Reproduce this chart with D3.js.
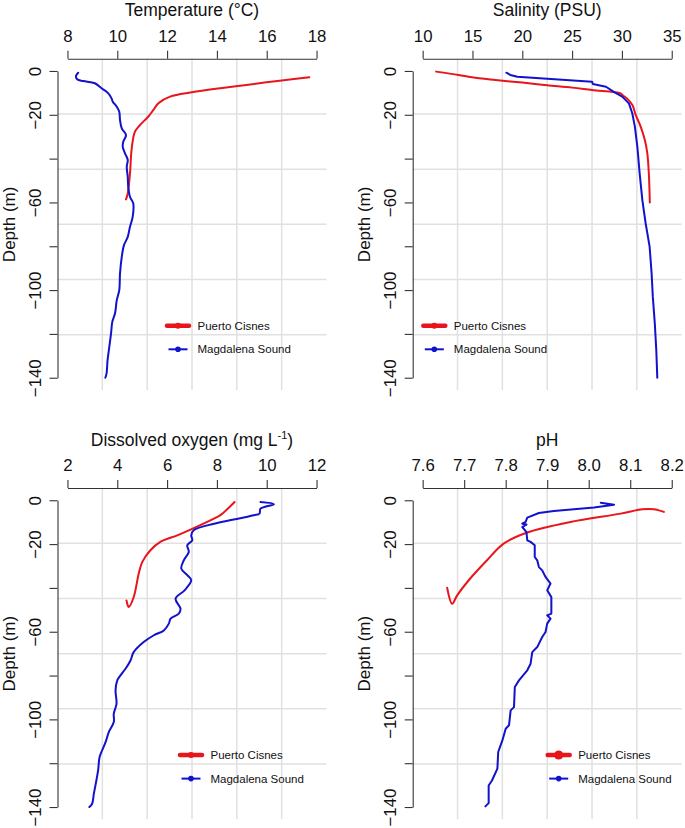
<!DOCTYPE html>
<html>
<head>
<meta charset="utf-8">
<script src="https://cdn.jsdelivr.net/npm/d3@7"></script>
<style>
  html, body { margin: 0; padding: 0; background: #fff; }
  svg { display: block; font-family: "Liberation Sans", Arial, sans-serif; }
</style>
</head>
<body>
<svg id="chart" width="685" height="828"></svg>
<script>
// ---------------- DATA ----------------
const seriesNames = ["Puerto Cisnes", "Magdalena Sound"];
const depthTicks = [0, -20, -40, -60, -80, -100, -120, -140];
const depthLabels = [0, -20, -60, -100, -140];

const tempTicks = [8, 10, 12, 14, 16, 18];
const salTicks = [10, 15, 20, 25, 30, 35];
const doTicks = [2, 4, 6, 8, 10, 12];
const phTicks = [7.6, 7.7, 7.8, 7.9, 8.0, 8.1, 8.2];

// Temperature (°C)
const tempPCDepth = [2.9, 9.7, 11.7, 14.7, 17.8, 20.9, 24.7, 27.7, 35.3, 46.7, 55.9, 58.6];
const tempPC = [17.71, 12.99, 12.12, 11.65, 11.45, 11.24, 10.91, 10.71, 10.58, 10.51, 10.42, 10.35];
const tempMSDepth = [0.8, 2.3, 3.8, 4.6, 5.6, 7.9, 10.2, 12.5, 14, 16.3, 18.6, 22.4, 26.2, 29.2, 32.3, 34.6, 37.6, 40.6, 43.7, 48.3, 52.8, 57.4, 60.4, 66.5, 71.1, 75.7, 79.5, 84.8, 92.4, 100, 104.6, 110.6, 114.5, 119.8, 125.9, 132, 138, 140];
const tempMS = [8.43, 8.34, 8.39, 8.63, 9.1, 9.37, 9.64, 9.77, 9.82, 9.98, 10.08, 10.11, 10.18, 10.35, 10.24, 10.22, 10.31, 10.42, 10.38, 10.42, 10.44, 10.51, 10.64, 10.62, 10.51, 10.42, 10.27, 10.18, 10.11, 10.08, 9.98, 9.91, 9.8, 9.75, 9.68, 9.61, 9.57, 9.52];

// Salinity (PSU)
const salPCDepth = [0.3, 1.8, 2.9, 4.1, 5.3, 6.5, 7.6, 8.7, 10.2, 11, 12.5, 15.5, 20, 25.4, 31.5, 37.6, 46.7, 60];
const salPC = [11.35, 13.6, 14.96, 17.3, 19.99, 22.5, 25.0, 27.0, 29.87, 30.04, 30.5, 31.05, 31.38, 31.88, 32.3, 32.55, 32.7, 32.8];
const salMSDepth = [0.8, 1.8, 2.6, 4.9, 5.9, 7.2, 9.5, 11.7, 14.8, 19.3, 25.4, 34.6, 46.7, 58.9, 69.5, 80.2, 92.4, 103, 115.2, 127.4, 140];
const salMS = [18.4, 18.8, 19.5, 27.0, 27.08, 28.4, 29.19, 30.03, 30.7, 31.04, 31.3, 31.55, 31.78, 32.05, 32.38, 32.78, 32.98, 33.1, 33.3, 33.45, 33.55];

// Dissolved oxygen (mg L-1)
const doPCDepth = [0.8, 6.8, 8.4, 13.4, 16, 19, 22.8, 28.2, 33.5, 44.2, 48.7, 45.7];
const doPC = [8.71, 8.14, 7.88, 6.94, 6.41, 5.73, 5.33, 5.0, 4.86, 4.66, 4.46, 4.37];
const doMSDepth = [0.8, 1.8, 3.8, 6.1, 6.8, 8.8, 10.7, 13.7, 16, 18.3, 20.5, 23.6, 27.4, 31.2, 34.2, 36.5, 41.1, 44.9, 49.5, 51.7, 54, 56.3, 59.4, 61.6, 64.7, 69.3, 73.1, 76.9, 79.9, 82.2, 86.8, 92.8, 97.4, 101.2, 105.8, 110.4, 114.2, 117.2, 123.3, 127.9, 133.9, 138.5, 140];
const doMS = [9.75, 10.29, 9.75, 9.71, 9.48, 8.68, 7.88, 7.07, 6.97, 7.01, 6.81, 6.87, 6.67, 6.57, 6.81, 6.97, 6.7, 6.34, 6.54, 6.47, 6.14, 6.07, 5.87, 5.47, 5.06, 4.66, 4.53, 4.33, 4.13, 4.0, 3.93, 3.97, 3.86, 3.86, 3.66, 3.53, 3.39, 3.29, 3.23, 3.16, 3.06, 2.99, 2.88];

// pH
const phPCDepth = [5.3, 4.1, 4.1, 6.1, 9.9, 14.7, 19.8, 27.4, 36.5, 43.4, 47.2, 39.9];
const phPC = [8.181, 8.157, 8.129, 8.077, 7.956, 7.852, 7.795, 7.755, 7.711, 7.683, 7.671, 7.659];
const phMSDepth = [1.1, 2.0, 3.3, 4.9, 5.8, 7.9, 9.9, 10.7, 11.1, 12.2, 14.5, 18.3, 19, 20.5, 25.9, 27.4, 30.5, 32, 35, 38, 41.1, 44.2, 51.7, 52.5, 54, 56.3, 60.1, 62.4, 67, 69.3, 74.6, 77.6, 82.2, 85.2, 94.4, 95.9, 102.7, 104.3, 109.6, 114.9, 122.5, 127.9, 130.2, 138.2, 139.7];
const phMS = [8.029, 8.061, 8.013, 7.916, 7.88, 7.852, 7.848, 7.84, 7.85, 7.84, 7.85, 7.852, 7.86, 7.87, 7.87, 7.876, 7.88, 7.888, 7.896, 7.908, 7.9, 7.91, 7.91, 7.9, 7.908, 7.9, 7.896, 7.888, 7.876, 7.864, 7.86, 7.852, 7.832, 7.822, 7.82, 7.812, 7.808, 7.8, 7.792, 7.782, 7.78, 7.767, 7.759, 7.759, 7.751];

// ---------------- LAYOUT ----------------
const RED = "#e8151b";
const BLUE = "#1212cc";
const TEXT = "#111";
const AXIS = "#333";
const GRID = "#e1e1e1";
const plotW = 269, plotH = 331.3;
const colX = [57.5, 412.7];
const rowY = [58.7, 488];

const smooth = d3.curveCatmullRom.alpha(0.5);
const panels = [
  { title: "Temperature (°C)", ticks: tempTicks, col: 0, row: 0, legendDX: 109.5,
    series: [{ v: tempPC, d: tempPCDepth, c: RED, curve: smooth }, { v: tempMS, d: tempMSDepth, c: BLUE, curve: smooth }] },
  { title: "Salinity (PSU)", ticks: salTicks, col: 1, row: 0, legendDX: 10.6,
    series: [{ v: salPC, d: salPCDepth, c: RED, curve: smooth }, { v: salMS, d: salMSDepth, c: BLUE, curve: d3.curveLinear }] },
  { title: "Dissolved oxygen (mg L", sup: "-1", tail: ")", ticks: doTicks, col: 0, row: 1, legendDX: 122.5,
    series: [{ v: doPC, d: doPCDepth, c: RED, curve: smooth }, { v: doMS, d: doMSDepth, c: BLUE, curve: smooth }] },
  { title: "pH", ticks: phTicks, col: 1, row: 1, legendDX: 135, bigDot: true,
    series: [{ v: phPC, d: phPCDepth, c: RED, curve: smooth }, { v: phMS, d: phMSDepth, c: BLUE, curve: d3.curveLinear }] }
];

const svg = d3.select("#chart");

panels.forEach(p => {
  const x0 = colX[p.col], y0 = rowY[p.row];
  const g = svg.append("g").attr("transform", `translate(${x0},${y0})`);

  const xmin = d3.min(p.ticks), xmax = d3.max(p.ticks);
  const xr = xmax - xmin;
  const x = d3.scaleLinear().domain([xmin - 0.04 * xr, xmax + 0.04 * xr]).range([0, plotW]);
  const y = d3.scaleLinear().domain([5.6, -145.6]).range([0, plotH]);

  // grid (6 x 6 equal divisions of plot region)
  const gx = d3.range(1, 6).map(i => i * plotW / 6);
  const gy = d3.range(1, 6).map(i => i * plotH / 6);
  g.append("g").selectAll("line").data(gx).join("line")
    .attr("x1", d => d).attr("x2", d => d).attr("y1", 0).attr("y2", plotH)
    .attr("stroke", GRID).attr("stroke-width", 1.5);
  g.append("g").selectAll("line").data(gy).join("line")
    .attr("y1", d => d).attr("y2", d => d).attr("x1", 0).attr("x2", plotW)
    .attr("stroke", GRID).attr("stroke-width", 1.5);

  // top axis
  const xAxisScale = d3.scaleLinear().domain([xmin, xmax]).range([x(xmin), x(xmax)]);
  const fmt = p.ticks.some(t => !Number.isInteger(t)) ? d3.format(".1f") : d3.format("d");
  const ax = g.append("g")
    .call(d3.axisTop(xAxisScale).tickValues(p.ticks).tickSize(8).tickSizeOuter(0).tickPadding(8.6).tickFormat(fmt));
  ax.select(".domain").attr("stroke", AXIS).attr("stroke-width", 1.1);
  ax.selectAll(".tick line").attr("stroke", AXIS).attr("stroke-width", 1.1);
  ax.selectAll("text").attr("font-size", 16.8).attr("fill", TEXT)
    .attr("font-family", "Liberation Sans, Arial, sans-serif");

  // left axis
  const yAxisScale = d3.scaleLinear().domain([0, -140]).range([y(0), y(-140)]);
  const ay = g.append("g")
    .call(d3.axisLeft(yAxisScale).tickValues(depthTicks).tickSize(8).tickSizeOuter(0)
      .tickFormat(v => depthLabels.includes(v) ? d3.format("d")(v) : ""));
  ay.select(".domain").attr("stroke", AXIS).attr("stroke-width", 1.1);
  ay.selectAll(".tick line").attr("stroke", AXIS).attr("stroke-width", 1.1);
  ay.selectAll("text")
    .attr("transform", "rotate(-90)")
    .attr("x", 0).attr("y", -16.3).attr("dy", null)
    .attr("text-anchor", "middle")
    .attr("font-size", 16.8).attr("fill", TEXT)
    .attr("font-family", "Liberation Sans, Arial, sans-serif");

  // titles
  const t = g.append("text")
    .attr("x", plotW / 2).attr("y", p.row === 0 ? -43.2 : -42)
    .attr("text-anchor", "middle").attr("font-size", 17.5).attr("fill", TEXT)
    .text(p.title);
  if (p.sup) {
    t.append("tspan").attr("font-size", 11).attr("dy", -7).text(p.sup);
    t.append("tspan").attr("dy", 7).text(p.tail);
  }
  g.append("text")
    .attr("transform", `translate(-42.5,${plotH / 2}) rotate(-90)`)
    .attr("text-anchor", "middle").attr("font-size", 17).attr("fill", TEXT)
    .text("Depth (m)");

  // data lines
  p.series.forEach(s => {
    const line = d3.line().x(d => x(d[0])).y(d => y(-d[1])).curve(s.curve);
    const pts = s.v.map((v, i) => [v, s.d[i]]);
    g.append("path").datum(pts).attr("d", line)
      .attr("fill", "none").attr("stroke", s.c).attr("stroke-width", 2)
      .attr("stroke-linejoin", "round").attr("stroke-linecap", "round");
  });

  // legend
  const lg = g.append("g").attr("transform", `translate(${p.legendDX},0)`);
  const ly = [267, 290.6];
  seriesNames.forEach((name, i) => {
    const yy = ly[i];
    if (i === 0) {
      lg.append("line").attr("x1", 0).attr("x2", 22).attr("y1", yy).attr("y2", yy)
        .attr("stroke", RED).attr("stroke-width", 4.5).attr("stroke-linecap", "round");
      lg.append("circle").attr("cx", 11).attr("cy", yy).attr("r", p.bigDot ? 4.6 : 3).attr("fill", RED);
    } else {
      lg.append("line").attr("x1", 1.5).attr("x2", 20.5).attr("y1", yy).attr("y2", yy)
        .attr("stroke", BLUE).attr("stroke-width", 2);
      lg.append("circle").attr("cx", 11).attr("cy", yy).attr("r", 2.8).attr("fill", BLUE);
    }
    lg.append("text").attr("x", 30.5).attr("y", yy).attr("dy", "0.36em")
      .attr("font-size", 11.5).attr("fill", TEXT).text(name);
  });
});
</script>
</body>
</html>
